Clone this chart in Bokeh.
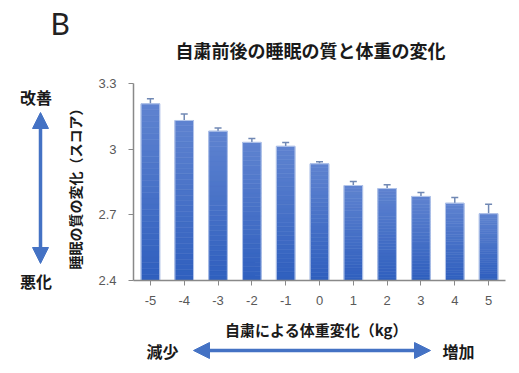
from bokeh.plotting import figure
from bokeh.models import (Label, Arrow, NormalHead, Whisker, TeeHead, ColumnDataSource,
                          FixedTicker, Range1d, LinearAxis)
from bokeh.embed import file_html
from bokeh.resources import INLINE

# ---- data ----
weight_change = [-5, -4, -3, -2, -1, 0, 1, 2, 3, 4, 5]
x_tick_labels = ["-5", "-4", "-3", "-2", "-1", "0", "1", "2", "3", "4", "5"]
sleep_score = [3.207, 3.131, 3.082, 3.031, 3.013, 2.933, 2.834, 2.820, 2.784, 2.753, 2.705]
score_err = [0.023, 0.030, 0.015, 0.018, 0.018, 0.009, 0.018, 0.017, 0.018, 0.026, 0.043]
y_ticks = [2.4, 2.7, 3.0, 3.3]
y_tick_labels = ["2.4", "2.7", "3", "3.3"]

title_text = "自粛前後の睡眠の質と体重の変化"
ylabel_text = "睡眠の質の変化（スコア）"
xlabel_text = "自粛による体重変化（kg）"

JP = "Noto Sans CJK JP"
BLUE = "#4472C4"
W, H = 519, 373

# plot area in page pixels: x-axis from px 133 to 505, y from 3.3 at py 83 to 2.4 at py 280
x_lo, x_hi = weight_change[0] - 0.5, weight_change[-1] + 0.5
y_lo, y_hi = y_ticks[0], y_ticks[-1]
px_l, px_r, py_t, py_b = 133, 505, 83, 280
kx = (x_hi - x_lo) / (px_r - px_l)
ky = (y_hi - y_lo) / (py_b - py_t)

src = ColumnDataSource(dict(
    x=weight_change,
    top=sleep_score,
    upper=[v + e for v, e in zip(sleep_score, score_err)],
))

p = figure(width=W, height=H,
           x_range=Range1d(x_lo - px_l * kx, x_hi + (W - px_r) * kx),
           y_range=Range1d(y_lo - (H - py_b) * ky, y_hi + py_t * ky),
           x_axis_location=None, y_axis_location=None,
           output_backend="svg", toolbar_location=None,
           min_border=0)
p.outline_line_color = None
p.xgrid.grid_line_color = None
p.ygrid.grid_line_color = None
p.background_fill_color = "white"
p.border_fill_color = "white"

# bars with a vertical gradient (dark at the base, lighter at the top), per bar
BAR_W = 0.55
c_bot = (0x2F, 0x5F, 0xBE)
c_top = (0x5F, 0x83, 0xD0)
N = 30
for i in range(N):
    f0, f1 = i / N, (i + 1) / N
    t = (i + 0.5) / N
    col = "#%02x%02x%02x" % tuple(round(a + (b - a) * t) for a, b in zip(c_bot, c_top))
    p.vbar(x=weight_change,
           bottom=[y_lo + (v - y_lo) * f0 for v in sleep_score],
           top=[y_lo + (v - y_lo) * f1 for v in sleep_score],
           width=BAR_W, fill_color=col, line_color=col, line_width=0.6)
# light edge round each bar
p.vbar(x="x", top="top", bottom=y_lo, width=BAR_W, source=src,
       fill_color=None, line_color="#B3C5EA", line_width=1)

w = Whisker(base="x", lower="top", upper="upper", source=src,
            line_color="#7088B4", line_width=1.5,
            upper_head=TeeHead(size=7, line_color="#7088B4", line_width=1.5),
            lower_head=None)
p.add_layout(w)

xaxis = LinearAxis(fixed_location=y_lo, bounds=(x_lo, x_hi),
                   ticker=FixedTicker(ticks=weight_change),
                   major_label_overrides={v: s for v, s in zip(weight_change, x_tick_labels)})
yaxis = LinearAxis(fixed_location=x_lo, bounds=(y_lo, y_hi),
                   ticker=FixedTicker(ticks=y_ticks),
                   major_label_overrides={v: s for v, s in zip(y_ticks, y_tick_labels)})
for ax in (xaxis, yaxis):
    ax.axis_line_color = "#898989"
    ax.axis_line_width = 1.5
    ax.major_tick_line_color = "#898989"
    ax.major_tick_out = 5
    ax.major_tick_in = 0
    ax.minor_tick_line_color = None
    ax.major_label_text_font = "Liberation Sans"
    ax.major_label_text_font_size = "13px"
    ax.major_label_text_color = "#595959"
yaxis.major_label_standoff = 12
xaxis.major_label_standoff = 10
p.add_layout(xaxis, "below")
p.add_layout(yaxis, "left")

# label positions in screen px from the canvas' lower-left corner
def lab(text, x, y, size, bold=True, angle=0.0, font=JP, color="#1a1a1a", align="center"):
    p.add_layout(Label(x=x, y=y, x_units="screen", y_units="screen", text=text,
                       text_font=font, text_font_size=size,
                       text_font_style="bold" if bold else "normal",
                       text_color=color, text_align=align, text_baseline="middle",
                       angle=angle))

lab("B", 50, 351, "30px", bold=False, font="Lato", color="#222222", align="left")
lab(title_text, 310, 323.5, "18px")
lab("改善", 35.5, 277, "16px")
lab("悪化", 35.5, 93, "16px")
lab(ylabel_text, 74, 188, "14px", angle=1.5707963)
lab(xlabel_text, 316, 44, "15px")
lab("減少", 162, 23, "16px")
lab("増加", 458, 23, "16px")

def arr(x0, y0, x1, y1):
    p.add_layout(Arrow(x_start=x0, y_start=y0, x_end=x1, y_end=y1,
                       start_units="screen", end_units="screen",
                       line_color=BLUE, line_width=3.5,
                       start=NormalHead(size=16, fill_color=BLUE, line_color=BLUE),
                       end=NormalHead(size=16, fill_color=BLUE, line_color=BLUE)))

arr(40, 261, 40, 110)
arr(193, 23, 430, 23)

open("out.html", "w").write(file_html(p, INLINE))
